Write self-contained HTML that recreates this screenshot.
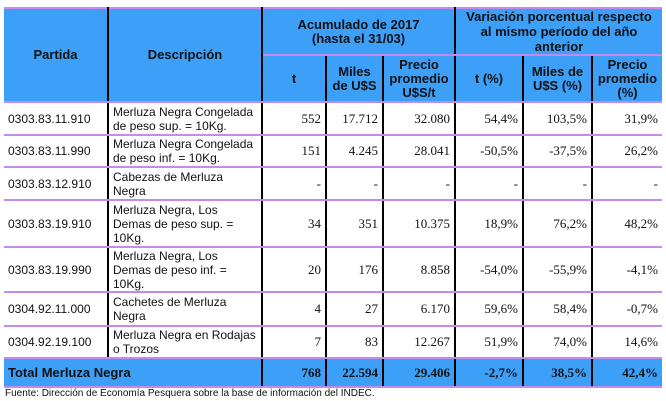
<!DOCTYPE html>
<html><head><meta charset="utf-8"><style>
body{margin:0;width:666px;height:401px;background:#fff;position:relative;overflow:hidden;font-family:"Liberation Sans",sans-serif}
table{position:absolute;left:4px;top:7px;border-collapse:collapse;table-layout:fixed}
td{padding:0 4px;font-size:12px;color:#111;border-top:2px solid #c58af0;border-bottom:2px solid #c58af0;border-left:2px solid #000;border-right:2px solid #000;line-height:14px;overflow:hidden}
td:first-child{border-left:none}
td:last-child{border-right:none}
.h{background:#3da0f8;font-weight:bold;text-align:center;font-size:13px;line-height:14px}
.n{text-align:right;font-family:"Liberation Serif",serif;font-size:13px}
.t td{background:#3da0f8;font-weight:bold;font-size:13px}
.foot{position:absolute;left:5px;top:388px;font-size:10px;color:#111}
</style></head><body>
<table>
<colgroup><col style="width:104px"><col style="width:154px"><col style="width:64px"><col style="width:57px"><col style="width:72px"><col style="width:68px"><col style="width:69px"><col style="width:70px"></colgroup>
<tr style="height:47px"><td class="h" rowspan="2">Partida</td><td class="h" rowspan="2">Descripción</td><td class="h" colspan="3">Acumulado de 2017<br>(hasta el 31/03)</td><td class="h" colspan="3" style="line-height:15px">Variación porcentual respecto<br>al mismo período del año<br>anterior</td></tr>
<tr style="height:47px"><td class="h">t</td><td class="h">Miles de U$S</td><td class="h">Precio promedio U$S/t</td><td class="h">t (%)</td><td class="h">Miles de U$S (%)</td><td class="h">Precio promedio (%)</td></tr>
<tr style="height:33px"><td>0303.83.11.910</td><td>Merluza Negra Congelada de peso sup. = 10Kg.</td><td class="n">552</td><td class="n">17.712</td><td class="n">32.080</td><td class="n">54,4%</td><td class="n">103,5%</td><td class="n">31,9%</td></tr>
<tr style="height:32px"><td>0303.83.11.990</td><td>Merluza Negra Congelada de peso inf. = 10Kg.</td><td class="n">151</td><td class="n">4.245</td><td class="n">28.041</td><td class="n">-50,5%</td><td class="n">-37,5%</td><td class="n">26,2%</td></tr>
<tr style="height:33px"><td>0303.83.12.910</td><td>Cabezas de Merluza Negra</td><td class="n">-</td><td class="n">-</td><td class="n">-</td><td class="n">-</td><td class="n">-</td><td class="n">-</td></tr>
<tr style="height:47px"><td>0303.83.19.910</td><td>Merluza Negra, Los Demas de peso sup. = 10Kg.</td><td class="n">34</td><td class="n">351</td><td class="n">10.375</td><td class="n">18,9%</td><td class="n">76,2%</td><td class="n">48,2%</td></tr>
<tr style="height:45px"><td>0303.83.19.990</td><td>Merluza Negra, Los Demas de peso inf. = 10Kg.</td><td class="n">20</td><td class="n">176</td><td class="n">8.858</td><td class="n">-54,0%</td><td class="n">-55,9%</td><td class="n">-4,1%</td></tr>
<tr style="height:34px"><td>0304.92.11.000</td><td>Cachetes de Merluza Negra</td><td class="n">4</td><td class="n">27</td><td class="n">6.170</td><td class="n">59,6%</td><td class="n">58,4%</td><td class="n">-0,7%</td></tr>
<tr style="height:32px"><td>0304.92.19.100</td><td>Merluza Negra en Rodajas o Trozos</td><td class="n">7</td><td class="n">83</td><td class="n">12.267</td><td class="n">51,9%</td><td class="n">74,0%</td><td class="n">14,6%</td></tr>
<tr class="t" style="height:29px"><td colspan="2">Total Merluza Negra</td><td class="n">768</td><td class="n">22.594</td><td class="n">29.406</td><td class="n">-2,7%</td><td class="n">38,5%</td><td class="n">42,4%</td></tr>
</table>
<div class="foot">Fuente: Dirección de Economía Pesquera sobre la base de información del INDEC.</div>
</body></html>
